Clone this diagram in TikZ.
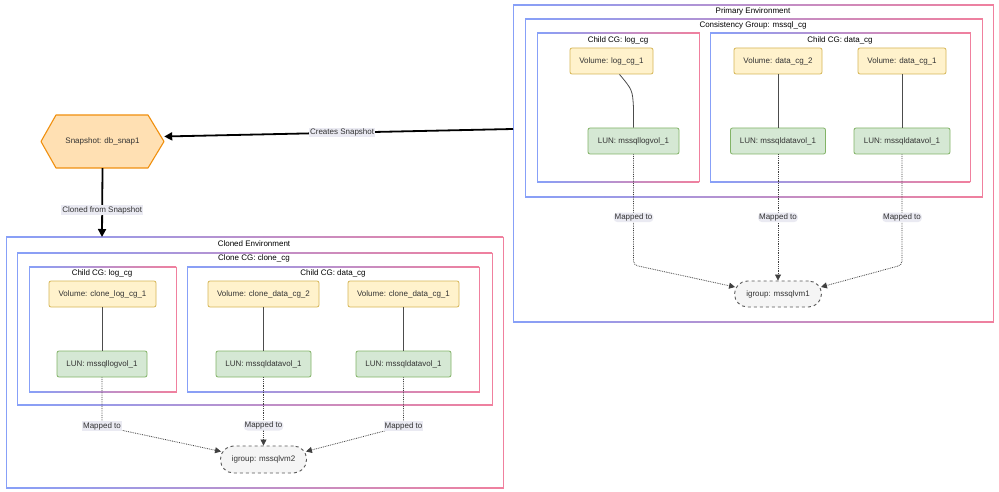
\documentclass[tikz,border=0pt]{standalone}
\usepackage{fontspec}
\setmainfont{Liberation Sans}
\usetikzlibrary{arrows.meta}
\definecolor{frblue}{RGB}{135,160,248}
\definecolor{frpink}{RGB}{240,128,158}
\definecolor{volfill}{HTML}{FFF2CC}
\definecolor{voldraw}{HTML}{D6B656}
\definecolor{lunfill}{HTML}{D5E8D4}
\definecolor{lundraw}{HTML}{82B366}
\definecolor{snapfill}{HTML}{FFE0B3}
\definecolor{snapdraw}{HTML}{F0900F}
\definecolor{igfill}{HTML}{F5F5F5}
\definecolor{lblbg}{RGB}{234,234,242}
\definecolor{txt}{HTML}{333333}
\newcommand{\gframe}[4]{%
  \shade[left color=frblue,right color=frpink] (#1,{#2-0.5}) rectangle (#3,{#2+0.5});
  \shade[left color=frblue,right color=frpink] (#1,{#4-0.5}) rectangle (#3,{#4+0.5});
  \fill[frblue] ({#1-0.5},{#2-0.5}) rectangle ({#1+0.5},{#4+0.5});
  \fill[frpink] ({#3-0.5},{#2-0.5}) rectangle ({#3+0.5},{#4+0.5});
}
\tikzset{
  base/.style={font=\fontsize{8}{9.6}\selectfont, text=txt, inner sep=0pt, minimum height=26},
  vol/.style={base, rectangle, rounded corners=2, fill=volfill, draw=voldraw, line width=0.8},
  lun/.style={base, rectangle, rounded corners=2, fill=lunfill, draw=lundraw, line width=0.8},
  igrp/.style={base, rectangle, rounded corners=13, fill=igfill, draw=black!65, dashed, line width=0.9},
  title/.style={font=\fontsize{8}{9.6}\selectfont, text=black, inner sep=0pt},
  lbl/.style={font=\fontsize{8}{9.6}\selectfont, text=txt, fill=lblbg, inner sep=1pt},
  link/.style={draw=black!70, line width=0.8},
  mapped/.style={draw=black!75, densely dotted, line width=0.8, -{Triangle[length=6,width=6]}, rounded corners=4},
  thick arrow/.style={draw=black, line width=1.8, -{Triangle[length=8,width=8]}}
}
\begin{document}
\begin{tikzpicture}[x=1pt,y=-1pt]
\useasboundingbox[fill=white] (0,0) rectangle (999,492);

% ---------- frames ----------
\gframe{513}{5}{993}{322}
\gframe{525}{19}{982}{197}
\gframe{537}{33}{699}{182}
\gframe{710}{33}{970}{182}
\gframe{6}{237}{503}{488}
\gframe{17}{253}{492}{405}
\gframe{29}{267}{176}{392}
\gframe{187}{267}{479}{392}

% ---------- titles ----------
\node[title] (tprim) at (753,11) {Primary Environment};
\node[title] (tcg) at (753,25.5) {Consistency Group: mssql\_cg};
\node[title] (tplog) at (618,40) {Child CG: log\_cg};
\node[title] (tpdata) at (840,40) {Child CG: data\_cg};
\node[title] (tclone) at (254,244) {Cloned Environment};
\node[title] (tccg) at (254,258.5) {Clone CG: clone\_cg};
\node[title] (tclog) at (102,273) {Child CG: log\_cg};
\node[title] (tcdata) at (333,273) {Child CG: data\_cg};

% ---------- primary nodes ----------
\node[vol, minimum width=83] (vlog) at (611.5,61) {Volume: log\_cg\_1};
\node[vol, minimum width=88] (vd2) at (778,61) {Volume: data\_cg\_2};
\node[vol, minimum width=88] (vd1) at (902,61) {Volume: data\_cg\_1};
\node[lun, minimum width=91] (llog) at (633.5,141) {LUN: mssqllogvol\_1};
\node[lun, minimum width=95] (ld2) at (778,141) {LUN: mssqldatavol\_1};
\node[lun, minimum width=96] (ld1) at (902,141) {LUN: mssqldatavol\_1};
\node[igrp, minimum width=87] (ig1) at (778,294) {igroup: mssqlvm1};

% ---------- clone nodes ----------
\node[vol, minimum width=107] (cvlog) at (102.5,294) {Volume: clone\_log\_cg\_1};
\node[vol, minimum width=111] (cvd2) at (263.5,294) {Volume: clone\_data\_cg\_2};
\node[vol, minimum width=111] (cvd1) at (403.5,294) {Volume: clone\_data\_cg\_1};
\node[lun, minimum width=90] (cllog) at (102,364) {LUN: mssqllogvol\_1};
\node[lun, minimum width=95] (cld2) at (263.5,364) {LUN: mssqldatavol\_1};
\node[lun, minimum width=95] (cld1) at (403.5,364) {LUN: mssqldatavol\_1};
\node[igrp, minimum width=86, minimum height=27] (ig2) at (263.5,459.5) {igroup: mssqlvm2};

% ---------- snapshot ----------
\filldraw[fill=snapfill, draw=snapdraw, line width=1.1, line join=round]
  (41,141.5) -- (56,115) -- (148,115) -- (164,141.5) -- (148,168) -- (56,168) -- cycle;
\node[base, minimum width=123, minimum height=53] (snap) at (102.5,141.5) {Snapshot: db\_snap1};

\coordinate (primedge) at (513,129);
\coordinate (clonetop) at (102,237);
\coordinate (c1) at (633.5,265);
\coordinate (c2) at (902,265);
\coordinate (c3) at (102,426);
\coordinate (c4) at (403.5,426);

% ---------- primary links ----------
\draw[link] ([xshift=8]vlog.south) .. controls (632.5,90) .. (633.5,108) -- (llog.north);
\draw[link] (vd2) -- (ld2);
\draw[link] (vd1) -- (ld1);

\draw[mapped] (llog.south) -- node[lbl, pos=0.57] {Mapped to} (c1) -- ([xshift=1,yshift=7]ig1.west);
\draw[mapped] (ld2.south) -- node[lbl, pos=0.5] {Mapped to} (ig1.north);
\draw[mapped] (ld1.south) -- node[lbl, pos=0.57] {Mapped to} (c2) -- ([xshift=-1,yshift=7]ig1.east);

% ---------- clone links ----------
\draw[link] (cvlog.south -| cllog.south) -- (cllog.north);
\draw[link] (cvd2) -- (cld2);
\draw[link] (cvd1) -- (cld1);

\draw[mapped] (cllog.south) -- (c3) -- ([xshift=1,yshift=8]ig2.west);
\node[lbl] (m4) at (c3) {Mapped to};
\draw[mapped] (cld2.south) -- node[lbl, pos=0.71] {Mapped to} (ig2.north);
\draw[mapped] (cld1.south) -- (c4) -- ([xshift=-1,yshift=8]ig2.east);
\node[lbl] (m6) at (c4) {Mapped to};

% ---------- snapshot arrows ----------
\draw[thick arrow] (primedge) -- node[lbl, pos=0.49] {Creates Snapshot} ([yshift=5]snap.east);
\draw[thick arrow] (snap.south) -- node[lbl, pos=0.61] {Cloned from Snapshot} (clonetop);
\end{tikzpicture}
\end{document}
